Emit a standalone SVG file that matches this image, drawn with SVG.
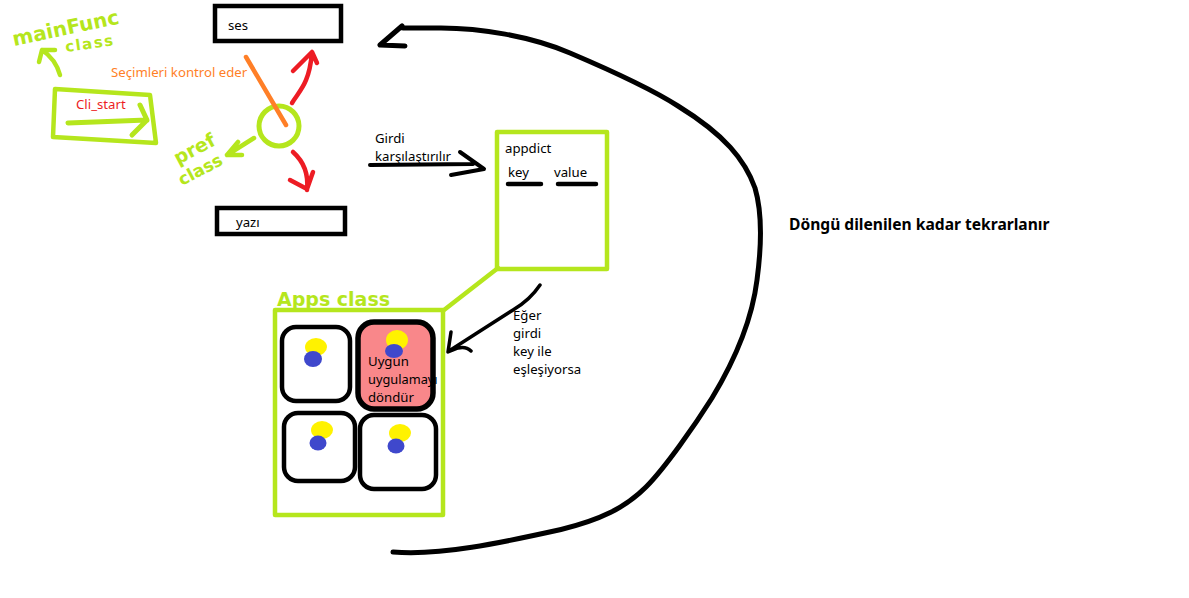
<svg xmlns="http://www.w3.org/2000/svg" width="1189" height="598" viewBox="0 0 1189 598">
<style>
text{font-family:"Noto Sans","DejaVu Sans",sans-serif;font-size:13.2px;fill:#000}
.b{fill:#fff;stroke:#000;stroke-width:4.5}
.g{fill:none;stroke:#b5e61d;stroke-width:4.5;stroke-linecap:round;stroke-linejoin:round}
.r{fill:none;stroke:#ed1c24;stroke-width:4.5;stroke-linecap:round;stroke-linejoin:round}
.k{fill:none;stroke:#000;stroke-width:3.5;stroke-linecap:round;stroke-linejoin:round}
.hand{font-family:"DejaVu Sans",sans-serif;fill:#b5e61d;font-weight:bold}
.y{fill:#fff200}.u{fill:#3f48cc}
</style>
<rect width="1189" height="598" fill="#fff"/>
<g id="ses"><rect class="b" x="215" y="6" width="126" height="35"/><text x="228" y="30">ses</text></g>
<g id="yazi"><rect class="b" x="217" y="208" width="128" height="26"/><text x="236" y="227">yazı</text></g>
<g id="cli-start"><path class="g" d="M55 89L150 95L156 143L53 137Z"/><path class="g" d="M68 123L147 120M140 105L147 120L132 135" style="stroke-width:5"/><text x="76" y="109" style="fill:#ed1c24">Cli_start</text></g>
<g id="mainfunc-label"><text class="hand" transform="translate(14 46) rotate(-12)" style="font-size:20px">mainFunc</text><text class="hand" transform="translate(66 52) rotate(-8)" style="font-size:15px;letter-spacing:1.5px">class</text><path class="g" d="M60 75C57 64 51 56 42 50M39 62L42 50L55 50"/></g>
<g id="pref"><circle class="g" cx="279" cy="126" r="20" style="stroke-width:5"/><path d="M246 57L286 125" fill="none" stroke="#ff7f27" stroke-width="4.5" stroke-linecap="round"/><text x="111" y="77" style="fill:#ff7f27">Seçimleri kontrol eder</text>
<text class="hand" transform="translate(178 165) rotate(-28)" style="font-size:19px">pref</text><text class="hand" transform="translate(182 186) rotate(-28)" style="font-size:17px">class</text><path class="g" d="M254 138L227 155M238 142L227 155L242 155"/></g>
<g id="connectors"><path class="r" d="M292 103C300 90 309 84 312 53M293 71L312 52L317 63"/><path class="r" d="M293 152C302 160 309 172 307 190M290 180L307 189L313 172"/>
<path class="k" d="M370 165L473 164M460 152L484 169L451 175" style="stroke-width:4"/>
<path class="g" d="M498 268L444 310"/>
<path class="k" d="M540 285Q530 300 513 310L477 333L449 351M451 332L448 352L458 348Q466 346 471 351"/>
<path class="k" d="M393 552C440 556 500 543 561 529.5C600 520 625 508 646 487C665 468 695 425 712 398C735 360 752 320 757 280C761 250 763 215 755 188C745 160 725 135 678 106C650 88 610 70 570 53C530 36 480 28 441 28L403 28M402 26L380 45L405 46" style="stroke-width:5"/></g>
<g id="appdict"><rect class="g" x="497" y="132" width="110" height="137" stroke-linecap="butt"/><text x="505" y="153">appdict</text><text x="508" y="177">key</text><text x="554" y="177">value</text><path class="k" d="M508 184H541M558 184H596" style="stroke-width:4.5"/></g>
<g id="girdi-label"><text x="375" y="143">Girdi</text><text x="375" y="161">karşılaştırılır</text></g>
<g id="apps"><rect class="g" x="275" y="310" width="168" height="205" stroke-linecap="butt"/><text class="hand" transform="translate(277 306)" style="font-size:19px">Apps class</text></g>
<g id="app1"><rect class="b" x="282" y="327" width="68" height="74" rx="14"/><ellipse class="y" cx="316" cy="347" rx="11" ry="9"/><ellipse class="u" cx="313" cy="359" rx="9" ry="8"/></g>
<g id="app2"><rect x="358" y="322" width="75" height="87" rx="16" fill="#f9878a" stroke="#000" stroke-width="5.5"/><ellipse class="y" cx="397" cy="340" rx="11" ry="10"/><ellipse class="u" cx="394" cy="351" rx="9" ry="7"/><text x="368" y="366">Uygun</text><text x="368" y="384" style="font-size:12.8px">uygulamayı</text><text x="368" y="402">döndür</text></g>
<g id="app3"><rect class="b" x="284" y="413" width="71" height="68" rx="14"/><ellipse class="y" cx="322" cy="430" rx="11" ry="9"/><ellipse class="u" cx="318" cy="443" rx="8.5" ry="7.5"/></g>
<g id="app4"><rect class="b" x="360" y="415" width="76" height="74" rx="14"/><ellipse class="y" cx="400" cy="433" rx="11" ry="9"/><ellipse class="u" cx="396" cy="446" rx="8.5" ry="7.5"/></g>
<g id="esles-label"><text x="513" y="320">Eğer</text><text x="513" y="338">girdi</text><text x="513" y="356">key ile</text><text x="513" y="374">eşleşiyorsa</text></g>
<g id="dongu-label"><text x="789" y="230" style="font-weight:bold;font-size:15.6px">Döngü dilenilen kadar tekrarlanır</text></g>
</svg>
